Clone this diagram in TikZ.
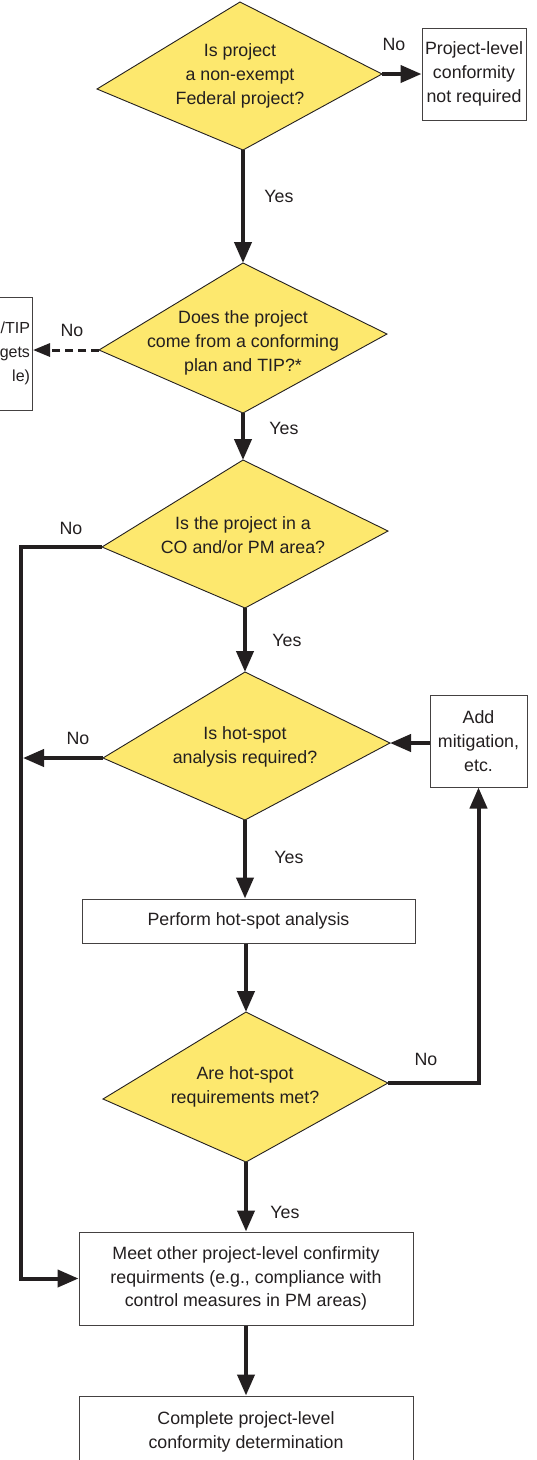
\documentclass[tikz,border=0pt]{standalone}
\usepackage{fontspec}
\setmainfont{Liberation Sans}
\usetikzlibrary{arrows.meta,calc}
\definecolor{qyellow}{RGB}{253,232,110}
\definecolor{ink}{RGB}{35,31,32}
\def\boxw{334pt}
\def\railx{21}

\begin{document}
\begin{tikzpicture}[x=1pt,y=-1pt,
	Q/.style={draw=ink,fill=qyellow,line width=.9pt},
	txt/.style={align=center,text=ink,font=\fontsize{17.8}{23.8}\selectfont},
	B/.style={rectangle,draw=ink!85,line width=1pt,fill=white,txt,inner sep=0pt},
	flow/.style={draw=ink,line width=4pt,-{Triangle[length=21pt,width=17pt]}},
	flowdash/.style={draw=ink,line width=3pt,dash pattern=on 8pt off 5pt,-{Triangle[length=17pt,width=13pt]}},
	lbl/.style={text=ink,font=\fontsize{17.8}{20}\selectfont}
	]
	\path[use as bounding box,fill=white] (0,0) rectangle (537,1460);
	
	% decisions
	\draw[Q] (240,2) coordinate (q1t) -- (382,74) coordinate (q1r) -- (243,150) coordinate (q1b) -- (97,89) coordinate (q1l) -- cycle;
	\node[txt] (q1) at (240,76) {Is project\\a non-exempt\\Federal project?};
	
	\draw[Q] (243,263) coordinate (q2t) -- (387,334) coordinate (q2r) -- (243,413) coordinate (q2b) -- (99,350) coordinate (q2l) -- cycle;
	\node[txt] (q2) at (243,343) {Does the project\\come from a conforming\\plan and TIP?*};
	
	\draw[Q] (243,460) coordinate (q3t) -- (388,531) coordinate (q3r) -- (245,608) coordinate (q3b) -- (102,547) coordinate (q3l) -- cycle;
	\node[txt] (q3) at (243,535) {Is the project in a\\CO and/or PM area?};
	
	\draw[Q] (245,672) coordinate (q4t) -- (390,743) coordinate (q4r) -- (245,820) coordinate (q4b) -- (103,758) coordinate (q4l) -- cycle;
	\node[txt] (q4) at (245,747) {Is hot-spot\\analysis required?};
	
	\draw[Q] (246,1012) coordinate (q5t) -- (388,1083) coordinate (q5r) -- (246,1162) coordinate (q5b) -- (103,1099) coordinate (q5l) -- cycle;
	\node[txt] (q5) at (245,1087) {Are hot-spot\\requirements met?};
	
	% boxes
	\node[B,minimum width=104pt,minimum height=92pt] (notreq) at (474,74) {Project-level\\conformity\\not required};
	\node[B,text width=100pt,align=right,minimum height=113pt,inner xsep=2.5pt,anchor=east,
		font=\fontsize{16}{23.8}\selectfont] (plan) at (33,353.5) {/TIP\\gets\\le)};
	\node[B,minimum width=97pt,minimum height=92pt] (mitig) at (478.5,741) {Add\\mitigation,\\etc.};
	\node[B,minimum width=333pt,minimum height=44pt] (hotspot) at (248.5,921) {Perform hot-spot analysis};
	\node[B,minimum width=\boxw,minimum height=93pt] (meet) at (246,1278.5) {Meet other project-level confirmity\\requirments (e.g., compliance with\\control measures in PM areas)};
	\node[B,minimum width=\boxw,minimum height=72pt] (done) at (246,1432) {Complete project-level\\conformity determination};
	
	% connectors
	\coordinate (rail) at (\railx,547);
	\draw[flow] (q1r) -- (notreq.west);
	\draw[flow] (q1b) -- (q2t);
	\draw[flowdash] (q2l) -- (q2l -| plan.east);
	\draw[flow] (q2b) -- (q3t);
	\draw[flow] (q3b) -- (q4t);
	\draw[flow] (q3l) -- (rail) |- (meet.west);
	\draw[flow,shorten >=2pt] (q4l) -- (q4l -| rail);
	\draw[flow] (mitig.west |- q4r) -- (q4r);
	\draw[flow] (q4b) -- (q4b |- hotspot.north);
	\draw[flow] (q5t |- hotspot.south) -- (q5t);
	\draw[flow] (q5r) -| (mitig.south);
	\draw[flow] (q5b) -- (q5b |- meet.north);
	\draw[flow] (meet.south) -- (done.north);
	
	% labels
	\node[lbl] at (394,44) {No};
	\node[lbl] at (279,196) {Yes};
	\node[lbl] at (72,330) {No};
	\node[lbl] at (284,428) {Yes};
	\node[lbl] at (71,528) {No};
	\node[lbl] at (287,640) {Yes};
	\node[lbl] at (78,738) {No};
	\node[lbl] at (289,857) {Yes};
	\node[lbl] at (426,1059) {No};
	\node[lbl] at (285,1212) {Yes};
\end{tikzpicture}
\end{document}
